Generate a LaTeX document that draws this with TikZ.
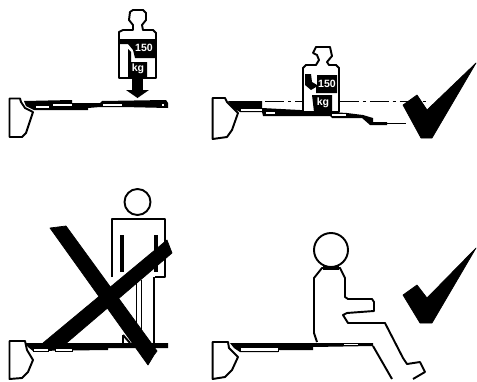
\documentclass[tikz,border=0pt]{standalone}
\usepackage{fontspec}
\setmainfont{Liberation Sans}
\tikzset{
    outline/.style={draw=black, line width=1.1pt, fill=white, line join=round},
    contour/.style={draw=black, line width=1.1pt, line join=round},
    slat/.style={draw=black, line width=0.5pt, fill=white},
    board/.style={fill=black},
    tick/.style={fill=black, draw=black, line join=round},
    level/.style={draw=black, line width=1.1pt, dash pattern=on 11pt off 2pt on 2pt off 2pt},
    weight/.style={inner sep=0pt, text=white, font=\bfseries\fontsize{6}{6}\selectfont},
}
\begin{document}
\begin{tikzpicture}[x=0.02cm, y=-0.02cm]
\useasboundingbox (0,0) rectangle (477,382);
% top left
\draw[outline] (9.5,98.5) -- (20,98.5) -- (21,102) -- (25,108) -- (33,112) -- (26,133) -- (22,137) -- (9.5,137) -- cycle;
\fill[board] (24,101) -- (72,100) -- (72,103) -- (100,103) -- (102,101) -- (166,100) -- (168,103) -- (168,108) -- (123,107) -- (100,107) -- (88,108) -- (88,110) -- (34,110) -- (26,106) -- cycle;
\draw[slat] (35,105.5) rectangle (49,108.5);
\draw[slat] (52,103) rectangle (72,106.5);
\draw[slat] (102,103) rectangle (122,106.5);
\draw[slat] (161,103.5) rectangle (164,106.5);
\draw[outline] (119,78) -- (119,32) -- (123,30) -- (133,30) -- (133,25) -- (129,20) -- (130,12) -- (133,10) -- (143,10) -- (146,13) -- (146,20) -- (142,25) -- (143,30) -- (153,30) -- (156,33) -- (156,78) -- cycle;
\fill[board] (120,39) -- (155,39) -- (155,58) -- (135,58) -- (133,50) -- (128,44) -- (120,44) -- cycle;
\fill[board] (128,49) -- (131,52) -- (131,62) -- (147,62) -- (147,77) -- (128,77) -- cycle;
\node[weight] (loadnumber) at (144,48) {150};
\node[weight] (loadunit) at (138,69) {kg};
\fill[board] (132,76) rectangle (143,90);
\fill[board] (126,90) -- (149,90) -- (137.5,98) -- cycle;
% top right
\draw[outline] (212.7,98) -- (225,98) -- (227,102) -- (238,113) -- (232,130) -- (227,137) -- (212.7,139) -- cycle;
\fill[board] (228,101) -- (262,101) -- (262,108) -- (300,110) -- (330,112) -- (347,113) -- (363,115) -- (373,118) -- (373,122) -- (387,122) -- (387,125) -- (370,125) -- (362,118) -- (347,118) -- (332,118) -- (330,116) -- (263,116) -- (262,112) -- (240,112) -- (233,108) -- cycle;
\draw[slat] (240,108) rectangle (262,111);
\draw[slat] (265,111) rectangle (275,114);
\draw[slat] (331,113.5) rectangle (346,116.5);
\draw[level] (265,101.5) -- (303,101.5);
\draw[level] (340,101.5) -- (428,101.5);
\draw[level] (387,123.5) -- (408,123.5);
\draw[outline] (303,112) -- (303,68) -- (306,65) -- (316,65) -- (319,60) -- (317,55) -- (313,53) -- (316,47) -- (330,47) -- (332,56) -- (327,62) -- (329,65) -- (336,65) -- (339,68) -- (339,112) -- cycle;
\fill[board] (305,74) -- (311,74) -- (312,82) -- (317,85) -- (317,75) -- (337,75) -- (337,93) -- (316,93) -- (316,87) -- (311,90) -- (305,85) -- cycle;
\fill[board] (312,95) -- (332,95) -- (332,112) -- (314,112) -- cycle;
\node[weight] (loadnumberb) at (327,84) {150};
\node[weight] (loadunitb) at (323,103) {kg};
\path[tick] (403,105) -- (417,95) -- (427,110) -- (476,63) -- (432,138) -- (421,138) -- cycle;
% bottom left
\draw[outline] (9.5,341) -- (25,341) -- (27,350) -- (33,360) -- (28,372) -- (22,378) -- (9.5,379) -- cycle;
\fill[board] (25,343) -- (168,343) -- (168,348) -- (108,348) -- (108,350) -- (33,351) -- (28,347) -- cycle;
\draw[slat] (33,348) rectangle (48,351);
\draw[slat] (55,348) rectangle (72,351);
\draw[contour] (137.5,202) circle (13);
\draw[contour] (112,277) -- (112,219) -- (165,219) -- (165,277) -- (155,277);
\draw[contour] (154,277) -- (154,343);
\fill[board] (119.5,235) rectangle (123.5,272);
\fill[board] (153.5,235) rectangle (157.5,272);
\draw[contour] (136.5,280) -- (136.5,330);
\draw[contour] (141.5,280) -- (141.5,330);
\draw[contour] (123,335) -- (123,343);
\draw[contour] (123,335) -- (130,343);
% cross
\path[tick] (50,228) -- (66,226) -- (157,351) -- (154,355) -- (148,365) -- cycle;
\path[tick] (43,343) -- (167,240) -- (172,253) -- (63,346) -- cycle;
% bottom right
\draw[outline] (212.7,342) -- (228,342) -- (229,348) -- (238,357) -- (232,370) -- (225,377) -- (212.7,379) -- cycle;
\fill[board] (230,343) -- (373,343) -- (373,346) -- (313,347) -- (313,350) -- (278,350) -- (278,352) -- (240,352) -- (234,348) -- cycle;
\draw[slat] (240,347.5) rectangle (278,351.5);
\draw[slat] (343,343.6) rectangle (358,345);
\draw[contour] (331,250) circle (17);
\fill[board] (323,266) rectangle (339,269.5);
\draw[contour] (317,342) -- (314,333) -- (314,278) -- (322,268) -- (340,268) -- (345,278) -- (345,297) -- (348,299) -- (372,299) -- (374,302) -- (374,311) -- (347,313) -- (343,315) -- (348,323) -- (385,323) -- (403,358) -- (407,364) -- (420,362) -- (425,372) -- (413,379);
\draw[contour] (373,346) -- (392,379);
\path[tick] (403,295) -- (417,285) -- (427,298) -- (476,248) -- (432,323) -- (420,323) -- cycle;
\end{tikzpicture}
\end{document}
